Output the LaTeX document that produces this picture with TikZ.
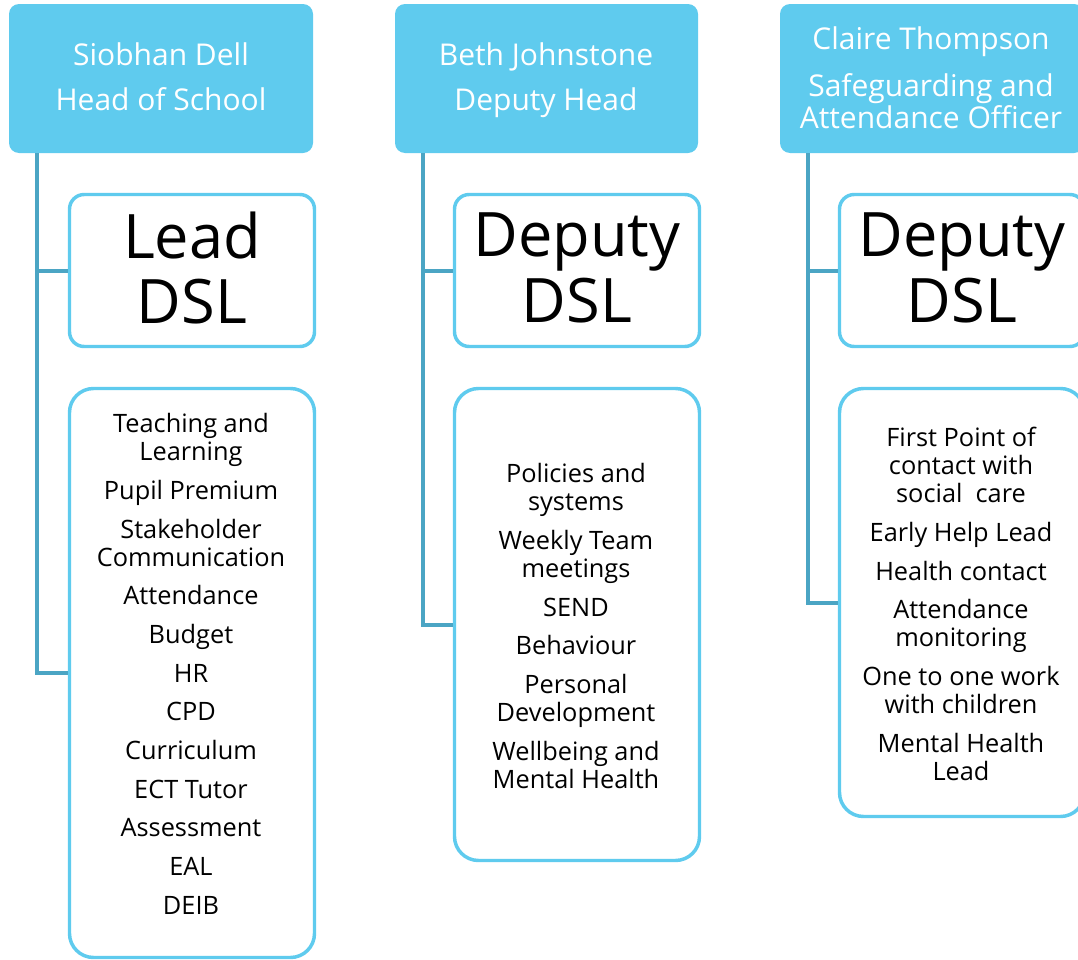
\documentclass[tikz,border=0pt]{standalone}
\usepackage{fontspec}
\setmainfont{Open Sans}
\usetikzlibrary{fit}
\definecolor{hdr}{HTML}{5FCBEE}
\definecolor{bdr}{HTML}{5FCBEE}
\definecolor{con}{HTML}{4BA5C4}
\begin{document}
\begin{tikzpicture}[x=0.75pt,y=-0.75pt,
  head/.style={fill=hdr, draw=none, rounded corners=7.5pt, inner sep=0pt},
  dslbox/.style={draw=bdr, line width=2.6pt, fill=white, rounded corners=11pt, inner sep=0pt},
  listbox/.style={draw=bdr, line width=2.6pt, fill=white, rounded corners=18pt, inner sep=0pt},
  conn/.style={draw=con, line width=3pt},
  htxt/.style={text=white, align=center, inner sep=0pt, font=\fontsize{22.5pt}{24pt}\selectfont},
  btxt/.style={text=black, align=center, inner sep=0pt, font=\fontsize{46pt}{49pt}\selectfont},
  ltxt/.style={text=black, align=center, inner sep=0pt, font=\fontsize{19pt}{21pt}\selectfont}]
\useasboundingbox (0,0) rectangle (1078,960);
\clip (0,0) rectangle (1078,960);
% column 1
\node[head, fit={(9,4) (313,153)}] (h1) {};
\node[htxt] (h1t) at (161,77) {Siobhan Dell\\[9.75pt]Head of School};
\node[dslbox, fit={(69.5,194.5) (314.5,346.5)}] (d1) {};
\node[btxt] (d1t) at (192,268) {Lead\\DSL};
\node[listbox, fit={(69.5,388.5) (314.5,957.5)}] (l1) {};
\node[ltxt] (l1t) at (191,664) {Teaching and\\Learning\\[8pt]Pupil Premium\\[8pt]Stakeholder\\Communication\\[8pt]Attendance\\[8pt]Budget\\[8pt]HR\\[8pt]CPD\\[8pt]Curriculum\\[8pt]ECT Tutor\\[8pt]Assessment\\[8pt]EAL\\[8pt]DEIB};
\coordinate (c1) at (37,153);
\draw[conn] (c1) |- (d1.west);
\draw[conn] (c1) |- (l1.west);
% column 2
\node[head, fit={(395,4) (698,153)}] (h2) {};
\node[htxt] (h2t) at (546,80) {Beth Johnstone\\[9.75pt]Deputy Head};
\node[dslbox, fit={(454.5,194.5) (699.5,346.5)}] (d2) {};
\node[btxt] (d2t) at (577,268) {Deputy\\DSL};
\node[listbox, fit={(454.5,388.5) (699.5,860.5)}] (l2) {};
\node[ltxt] (l2t) at (576,626) {Policies and\\systems\\[8pt]Weekly Team\\meetings\\[8pt]SEND\\[8pt]Behaviour\\[8pt]Personal\\Development\\[8pt]Wellbeing and\\Mental Health};
\coordinate (c2) at (423,153);
\draw[conn] (c2) |- (d2.west);
\draw[conn] (c2) |- (l2.west);
% column 3
\node[head, fit={(780,4) (1084,153)}] (h3) {};
\node[htxt] (h3t) at (931,78) {Claire Thompson\\[11pt]Safeguarding and\\Attendance Officer};
\node[dslbox, fit={(839.5,194.5) (1084.5,346.5)}] (d3) {};
\node[btxt] (d3t) at (962,268) {Deputy\\DSL};
\node[listbox, fit={(839.5,388.5) (1084.5,816.5)}] (l3) {};
\node[ltxt] (l3t) at (961,604) {First Point of\\contact with\\social\ \ care\\[8pt]Early Help Lead\\[8pt]Health contact\\[8pt]Attendance\\monitoring\\[8pt]One to one work\\with children\\[8pt]Mental Health\\Lead};
\coordinate (c3) at (808,153);
\draw[conn] (c3) |- (d3.west);
\draw[conn] (c3) |- (l3.west);
\end{tikzpicture}
\end{document}
